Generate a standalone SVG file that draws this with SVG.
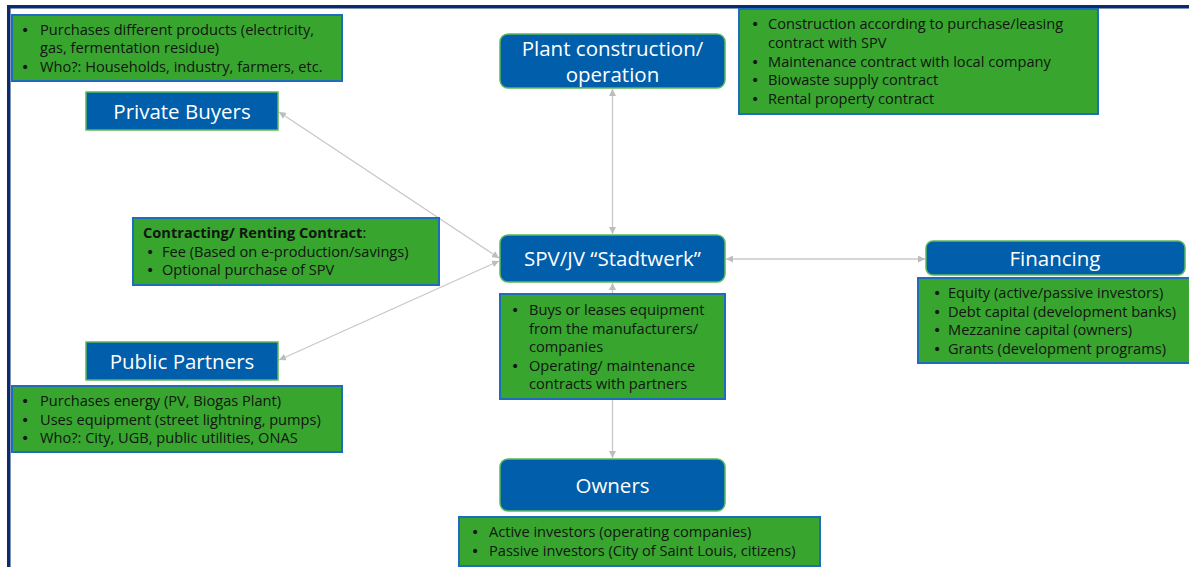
<svg xmlns="http://www.w3.org/2000/svg" width="1189" height="567" viewBox="0 0 1189 567">
  <style>
    .node { fill: #005eab; stroke: #5cb85c; stroke-width: 1.5; }
    .note { fill: #38a52f; stroke: #1f6cbc; stroke-width: 2; }
    .title { font-family: "Open Sans", "Noto Sans", sans-serif; font-size: 20.5px; fill: #ffffff; text-anchor: middle; }
    .body { font-family: "Open Sans", "Noto Sans", sans-serif; font-size: 14.6px; fill: #111611; }
    .dot { font-family: "DejaVu Sans", sans-serif; font-size: 14px; fill: #111611; }
    .bold { font-weight: bold; }
    .link { fill: none; stroke: #c8c8c8; stroke-width: 1.3; marker-start: url(#tip); marker-end: url(#tip); }
    .frame { fill: none; stroke: #0a2b6e; stroke-width: 3.5; }
  </style>
  <defs>
    <marker id="tip" viewBox="0 0 10 10" refX="10" refY="5" markerWidth="7" markerHeight="7" markerUnits="userSpaceOnUse" orient="auto-start-reverse">
      <path d="M0 0 L10 5 L0 10 Z" fill="#bdbdbd"/>
    </marker>
  </defs>

  <rect width="1189" height="567" fill="#ffffff"/>
  <path class="frame" d="M8.75 567 V6.75 H1189"/>

  <!-- connectors (drawn first so the note boxes cover them) -->
  <g id="connectors">
    <line class="link" x1="612.5" y1="89" x2="612.5" y2="234"/>
    <line class="link" x1="726" y1="259" x2="925" y2="259"/>
    <line class="link" x1="279" y1="112" x2="499" y2="258"/>
    <line class="link" x1="499" y1="261" x2="279" y2="360"/>
    <line class="link" x1="612.5" y1="283" x2="612.5" y2="458"/>
  </g>

  <!-- Private buyers -->
  <g id="private-buyers-note">
    <rect class="note" x="12" y="15" width="330" height="66"/>
    <text class="dot" x="21" y="35">•</text>
    <text class="body" x="40" y="35">Purchases different products (electricity,</text>
    <text class="body" x="40" y="53">gas, fermentation residue)</text>
    <text class="dot" x="21" y="72">•</text>
    <text class="body" x="40" y="72">Who?: Households, industry, farmers, etc.</text>
  </g>
  <g id="private-buyers">
    <rect class="node" x="86" y="92" width="192" height="38"/>
    <text class="title" x="182" y="119">Private Buyers</text>
  </g>

  <!-- Plant construction / operation -->
  <g id="plant">
    <rect class="node" x="500" y="34" width="225" height="54" rx="8"/>
    <text class="title" x="612.5" y="56">Plant construction/</text>
    <text class="title" x="612.5" y="82">operation</text>
  </g>
  <g id="plant-note">
    <rect class="note" x="739" y="9" width="359" height="105"/>
    <text class="dot" x="751" y="29">•</text>
    <text class="body" x="768" y="29">Construction according to purchase/leasing</text>
    <text class="body" x="768" y="48">contract with SPV</text>
    <text class="dot" x="751" y="67">•</text>
    <text class="body" x="768" y="67">Maintenance contract with local company</text>
    <text class="dot" x="751" y="85">•</text>
    <text class="body" x="768" y="85">Biowaste supply contract</text>
    <text class="dot" x="751" y="104">•</text>
    <text class="body" x="768" y="104">Rental property contract</text>
  </g>

  <!-- Contracting -->
  <g id="contracting-note">
    <rect class="note" x="133" y="218" width="306" height="67"/>
    <text class="body" x="143" y="238"><tspan class="bold">Contracting/ Renting Contract</tspan>:</text>
    <text class="dot" x="146" y="257">•</text>
    <text class="body" x="162" y="257">Fee (Based on e-production/savings)</text>
    <text class="dot" x="146" y="275">•</text>
    <text class="body" x="162" y="275">Optional purchase of SPV</text>
  </g>

  <!-- SPV -->
  <g id="spv">
    <rect class="node" x="500" y="235" width="225" height="47" rx="8"/>
    <text class="title" x="612.5" y="266">SPV/JV “Stadtwerk”</text>
  </g>
  <g id="spv-note">
    <rect class="note" x="500" y="294" width="225" height="105"/>
    <text class="dot" x="511" y="315">•</text>
    <text class="body" x="529" y="315">Buys or leases equipment</text>
    <text class="body" x="529" y="334">from the manufacturers/</text>
    <text class="body" x="529" y="352">companies</text>
    <text class="dot" x="511" y="371">•</text>
    <text class="body" x="529" y="371">Operating/ maintenance</text>
    <text class="body" x="529" y="389">contracts with partners</text>
  </g>

  <!-- Financing -->
  <g id="financing">
    <rect class="node" x="926" y="241" width="259" height="34" rx="7"/>
    <text class="title" x="1055" y="266">Financing</text>
  </g>
  <g id="financing-note">
    <rect class="note" x="918" y="278" width="274" height="85"/>
    <text class="dot" x="933" y="298">•</text>
    <text class="body" x="948" y="298">Equity (active/passive investors)</text>
    <text class="dot" x="933" y="317">•</text>
    <text class="body" x="948" y="317">Debt capital (development banks)</text>
    <text class="dot" x="933" y="335">•</text>
    <text class="body" x="948" y="335">Mezzanine capital (owners)</text>
    <text class="dot" x="933" y="354">•</text>
    <text class="body" x="948" y="354">Grants (development programs)</text>
  </g>

  <!-- Public partners -->
  <g id="public-partners">
    <rect class="node" x="86" y="342" width="192" height="38"/>
    <text class="title" x="182" y="369">Public Partners</text>
  </g>
  <g id="public-partners-note">
    <rect class="note" x="12" y="386" width="330" height="66"/>
    <text class="dot" x="21" y="406">•</text>
    <text class="body" x="40" y="406">Purchases energy (PV, Biogas Plant)</text>
    <text class="dot" x="21" y="425">•</text>
    <text class="body" x="40" y="425">Uses equipment (street lightning, pumps)</text>
    <text class="dot" x="21" y="443">•</text>
    <text class="body" x="40" y="443">Who?: City, UGB, public utilities, ONAS</text>
  </g>

  <!-- Owners -->
  <g id="owners">
    <rect class="node" x="500" y="459" width="225" height="52" rx="8"/>
    <text class="title" x="612.5" y="493">Owners</text>
  </g>
  <g id="owners-note">
    <rect class="note" x="459" y="517" width="361" height="49"/>
    <text class="dot" x="471" y="537">•</text>
    <text class="body" x="489" y="537">Active investors (operating companies)</text>
    <text class="dot" x="471" y="556">•</text>
    <text class="body" x="489" y="556">Passive investors (City of Saint Louis, citizens)</text>
  </g>
</svg>
